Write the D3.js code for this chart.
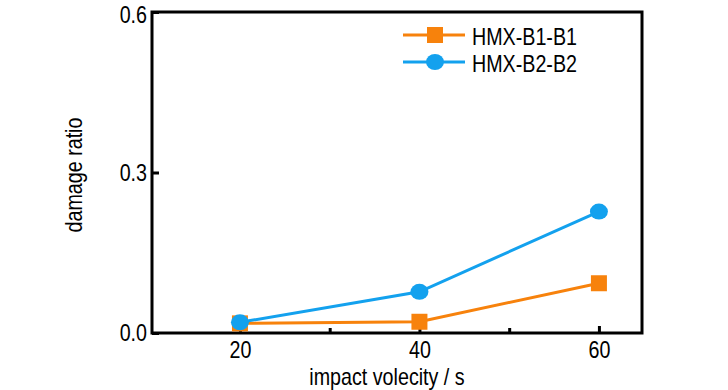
<!DOCTYPE html>
<html><head><meta charset="utf-8">
<script src="https://cdn.jsdelivr.net/npm/d3@7"></script>
<style>body{margin:0;background:#fff;}</style>
</head><body>
<svg id="c" width="728" height="390"></svg>
<script>
const velocities = [20, 40, 60];
const seriesNames = ["HMX-B1-B1", "HMX-B2-B2"];
const b1Values = [0.018, 0.021, 0.093];
const b2Values = [0.020, 0.077, 0.227];
const xTicks = [20, 40, 60];
const xMinorTicks = [30, 50];
const yTicks = [0.0, 0.3, 0.6];
const colors = ["#F7820C", "#13A1EE"];

// detect narrow font
const cv = document.createElement("canvas").getContext("2d");
cv.font = '24px monospace'; const wMono = cv.measureText("HMX-B1-B1 impact").width;
cv.font = '24px "Liberation Sans Narrow", monospace'; const wNarrow = cv.measureText("HMX-B1-B1 impact").width;
const hasNarrow = Math.abs(wMono - wNarrow) > 0.5;
const FONT = hasNarrow ? '"Liberation Sans Narrow", "Arial Narrow", sans-serif' : '"Liberation Sans", Arial, sans-serif';
const FS = 24;

const svg = d3.select("#c").attr("font-family", FONT);
const L = 152, R = 642, T = 12, B = 333;
const x = d3.scaleLinear().domain([10.2, 64.8]).range([L, R]);
const y = d3.scaleLinear().domain([0, 0.6]).range([B, T]);

// frame
svg.append("rect").attr("x", L).attr("y", T).attr("width", R - L).attr("height", B - T)
  .attr("fill", "none").attr("stroke", "#000").attr("stroke-width", 3);

// x axis
const xAxis = d3.axisBottom(x).tickValues(xTicks).tickFormat(d3.format("d")).tickSize(-7).tickPadding(8);
const gx = svg.append("g").attr("transform", `translate(0,${B})`).call(xAxis);
gx.select(".domain").remove();
gx.selectAll(".tick line").attr("stroke-width", 3);
gx.selectAll("text").attr("font-size", FS).attr("fill", "#000").attr("font-family", FONT);
const xMinor = d3.axisBottom(x).tickValues(xMinorTicks).tickFormat("").tickSize(-5);
const gxm = svg.append("g").attr("transform", `translate(0,${B})`).call(xMinor);
gxm.select(".domain").remove();
gxm.selectAll(".tick line").attr("stroke-width", 3);

// y axis
const yAxis = d3.axisLeft(y).tickValues(yTicks).tickFormat(d3.format(".1f")).tickSize(-7).tickPadding(5);
const gy = svg.append("g").attr("transform", `translate(${L},0)`).call(yAxis);
gy.select(".domain").remove();
gy.selectAll(".tick line").attr("stroke-width", 3);
gy.selectAll("text").attr("font-size", FS).attr("fill", "#000").attr("font-family", FONT)
  .attr("dy", d => d === 0.6 ? "0.42em" : "0.32em");

// titles
svg.append("text").attr("x", 387).attr("y", 385).attr("text-anchor", "middle")
  .attr("font-size", FS).text("impact volecity / s");
svg.append("text").attr("transform", `translate(82,175) rotate(-90)`)
  .attr("text-anchor", "middle").attr("font-size", FS).text("damage ratio");

const series = [b1Values, b2Values];
const line = d3.line().x((d, i) => x(velocities[i])).y(d => y(d));
series.forEach((vals, si) => {
  svg.append("path").datum(vals).attr("d", line).attr("fill", "none")
    .attr("stroke", colors[si]).attr("stroke-width", 3);
});
// markers
svg.append("g").selectAll("rect").data(b1Values).join("rect")
  .attr("x", (d, i) => x(velocities[i]) - 8).attr("y", d => y(d) - 8)
  .attr("width", 16).attr("height", 16).attr("fill", colors[0]);
svg.append("g").selectAll("ellipse").data(b2Values).join("ellipse")
  .attr("cx", (d, i) => x(velocities[i])).attr("cy", d => y(d))
  .attr("rx", 9).attr("ry", 8).attr("fill", colors[1]);

// legend
const lg = svg.append("g");
const ly = [35, 62];
seriesNames.forEach((name, i) => {
  lg.append("line").attr("x1", 403).attr("x2", 465).attr("y1", ly[i]).attr("y2", ly[i])
    .attr("stroke", colors[i]).attr("stroke-width", 3);
  if (i === 0) {
    lg.append("rect").attr("x", 435 - 8).attr("y", ly[i] - 8).attr("width", 16).attr("height", 16).attr("fill", colors[i]);
  } else {
    lg.append("ellipse").attr("cx", 435).attr("cy", ly[i]).attr("rx", 9).attr("ry", 8).attr("fill", colors[i]);
  }
  lg.append("text").attr("x", 472).attr("y", ly[i] + 10).attr("font-size", FS).text(name);
});

// condense text if narrow font missing
if (!hasNarrow) {
  svg.selectAll("text").each(function () {
    const w = this.getComputedTextLength();
    if (w > 0) d3.select(this).attr("textLength", w * 0.82).attr("lengthAdjust", "spacingAndGlyphs");
  });
}
</script>
</body></html>
